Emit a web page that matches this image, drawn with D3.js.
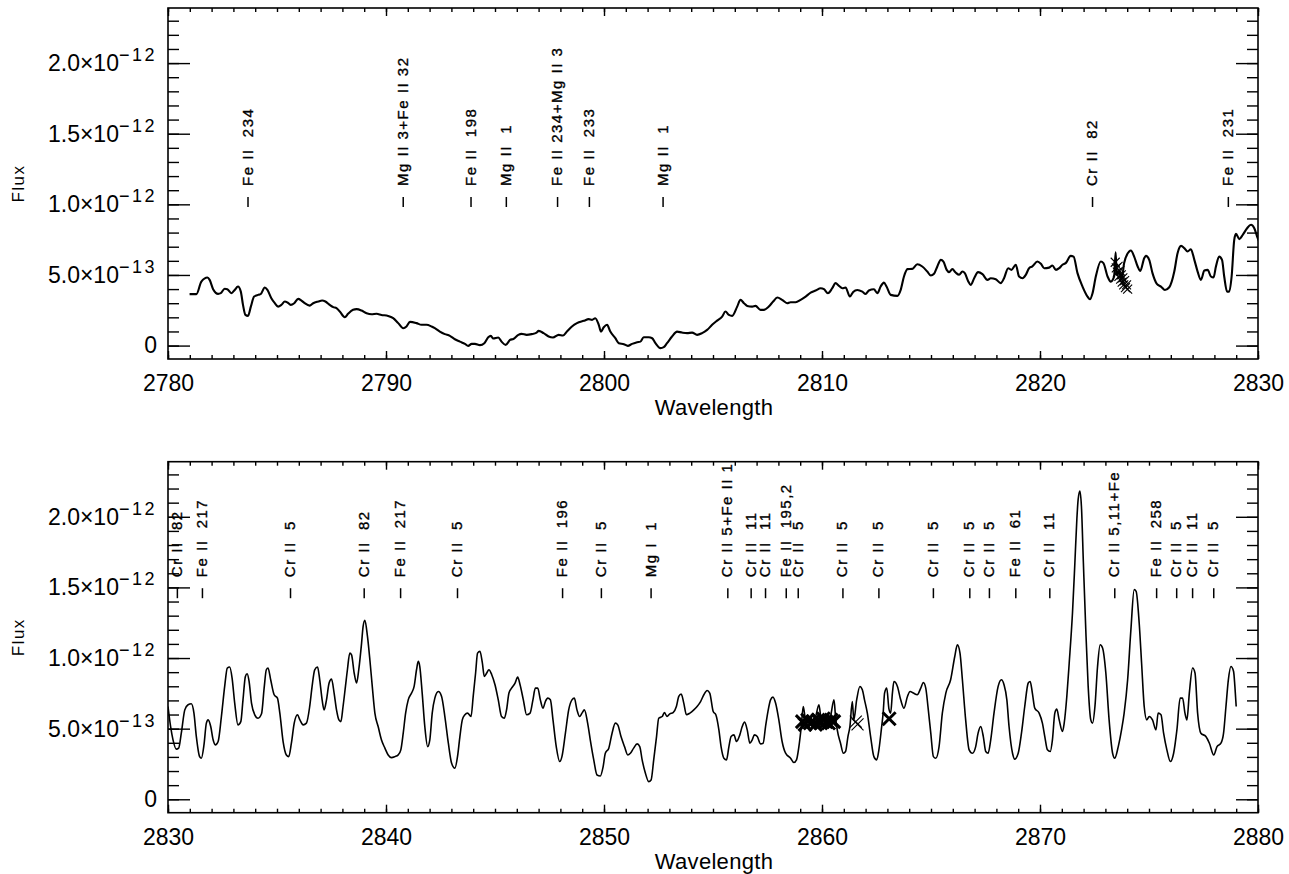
<!DOCTYPE html>
<html><head><meta charset="utf-8">
<script src="https://cdn.jsdelivr.net/npm/d3@7"></script>
<style>
body{margin:0;background:#fff;}
svg text{font-family:"Liberation Sans",Arial,sans-serif;fill:#000;}
</style></head><body>
<svg id="chart" width="1289" height="874"></svg>
<script>
// ---------- DATA (flux values in units of 1e-13) ----------
const FLUX_UNIT = 1e-13;

const topWavelength = [2780.99,2781.30,2781.53,2781.81,2781.91,2782.07,2782.30,2782.42,2782.60,2782.72,2782.91,2783.06,2783.21,2783.34,2783.44,2783.55,2783.67,2783.80,2783.95,2784.13,2784.25,2784.44,2784.56,2784.74,2784.90,2785.05,2785.20,2785.36,2785.48,2785.63,2785.79,2785.97,2786.12,2786.27,2786.50,2786.66,2786.89,2787.07,2787.22,2787.42,2787.58,2787.73,2787.88,2788.11,2788.26,2788.49,2788.65,2788.88,2789.11,2789.34,2789.57,2789.79,2790.10,2790.33,2790.56,2790.79,2790.94,2791.10,2791.40,2791.63,2791.86,2792.09,2792.24,2792.47,2792.70,2792.93,2793.16,2793.39,2793.62,2793.77,2793.93,2794.08,2794.31,2794.51,2794.69,2794.81,2794.92,2795.15,2795.30,2795.49,2795.69,2795.84,2796.07,2796.22,2796.45,2796.68,2796.91,2797.00,2797.23,2797.46,2797.66,2797.92,2798.12,2798.30,2798.53,2798.76,2799.07,2799.30,2799.45,2799.60,2799.76,2799.86,2799.99,2800.14,2800.29,2800.52,2800.68,2800.91,2801.09,2801.29,2801.52,2801.67,2801.82,2802.05,2802.21,2802.36,2802.59,2802.74,2802.89,2803.12,2803.35,2803.58,2803.81,2804.04,2804.27,2804.50,2804.73,2804.96,2805.19,2805.42,2805.57,2805.73,2805.88,2806.11,2806.26,2806.42,2806.57,2806.80,2806.95,2807.18,2807.33,2807.56,2807.76,2807.95,2808.17,2808.40,2808.56,2808.79,2809.02,2809.25,2809.48,2809.71,2809.94,2810.09,2810.27,2810.47,2810.62,2810.78,2810.93,2811.08,2811.28,2811.43,2811.62,2811.85,2812.00,2812.15,2812.38,2812.54,2812.69,2812.84,2812.96,2813.15,2813.46,2813.61,2813.76,2813.92,2814.14,2814.37,2814.60,2814.83,2814.99,2815.14,2815.29,2815.45,2815.57,2815.72,2815.83,2815.98,2816.13,2816.29,2816.44,2816.55,2816.70,2816.82,2816.98,2817.16,2817.36,2817.59,2817.74,2817.97,2818.20,2818.35,2818.54,2818.69,2818.89,2819.04,2819.20,2819.35,2819.50,2819.65,2819.88,2820.04,2820.19,2820.42,2820.57,2820.73,2820.88,2821.03,2821.18,2821.41,2821.54,2821.72,2821.95,2822.18,2822.29,2822.41,2822.56,2822.79,2822.91,2823.10,2823.25,2823.40,2823.47,2823.52,2823.65,2823.75,2823.86,2824.09,2824.17,2824.32,2824.48,2824.60,2824.78,2824.86,2825.01,2825.16,2825.36,2825.55,2825.73,2825.93,2826.16,2826.31,2826.47,2826.62,2826.77,2826.92,2827.08,2827.23,2827.38,2827.54,2827.69,2827.84,2827.96,2828.07,2828.22,2828.35,2828.45,2828.58,2828.68,2828.79,2828.91,2828.99,2829.14,2829.30,2829.50,2829.68,2829.83,2829.96,2830.10];
const topFlux = [3.64,3.64,4.53,4.82,4.65,3.99,3.66,3.71,4.02,3.99,3.71,3.94,4.18,3.82,2.88,2.17,2.10,2.76,3.47,3.59,3.64,4.11,3.94,3.35,3.00,2.76,2.88,3.12,3.05,2.88,3.00,3.31,3.19,3.00,2.83,3.00,3.12,3.19,3.12,2.88,2.72,2.65,2.41,2.01,2.25,2.53,2.58,2.48,2.29,2.22,2.25,2.17,2.10,1.94,1.59,1.23,1.35,1.68,1.59,1.47,1.47,1.35,1.23,0.99,0.81,0.69,0.45,0.28,0.12,-0.02,0.12,0.12,0.03,0.17,0.59,0.69,0.50,0.57,0.28,0.05,0.40,0.47,0.76,0.83,0.76,0.81,0.92,1.04,0.88,0.64,0.57,0.76,0.71,0.99,1.35,1.59,1.75,1.87,1.82,1.94,1.47,0.99,1.30,1.47,0.99,0.52,0.17,0.10,-0.02,0.12,0.24,0.28,0.59,0.59,0.52,0.17,-0.18,-0.11,0.17,0.64,0.99,0.92,0.88,0.92,0.76,0.88,1.11,1.47,1.77,2.05,2.41,2.17,2.10,2.76,3.24,3.00,2.81,2.76,2.81,2.53,2.53,2.76,3.12,3.40,3.24,3.00,3.07,3.07,3.24,3.47,3.75,3.90,4.06,3.99,3.71,4.06,4.42,4.23,4.06,4.11,3.47,3.80,3.94,3.82,3.66,3.90,3.99,3.71,4.18,4.46,4.18,3.59,3.52,3.94,4.89,5.41,5.43,5.76,5.60,5.24,4.96,5.08,5.60,6.07,5.95,5.36,5.20,5.41,5.17,5.01,5.24,5.13,4.58,4.30,4.77,5.20,5.06,4.65,4.77,4.70,4.42,4.77,5.48,5.36,5.72,4.89,4.77,5.01,5.48,5.60,5.95,5.79,5.48,5.52,5.67,5.36,5.48,5.72,5.84,6.35,6.30,5.13,4.18,3.47,3.28,3.71,4.89,5.95,5.84,4.89,4.53,4.90,6.60,5.00,5.20,4.70,5.84,6.66,6.73,6.30,5.60,5.29,6.19,6.35,6.07,5.13,4.37,4.18,3.94,4.13,5.24,6.54,7.06,6.90,6.66,6.82,6.07,5.24,4.65,5.31,5.36,4.89,4.82,5.60,6.30,6.07,4.89,3.82,3.82,4.89,7.49,7.91,7.54,7.84,8.31,8.55,8.31,7.72,7.20];

const bottomWavelength = [2830.00,2830.12,2830.23,2830.38,2830.49,2830.61,2830.77,2830.92,2831.07,2831.19,2831.30,2831.45,2831.53,2831.65,2831.76,2831.84,2831.96,2832.07,2832.17,2832.30,2832.45,2832.60,2832.72,2832.83,2832.94,2833.06,2833.21,2833.34,2833.44,2833.55,2833.63,2833.72,2833.83,2833.98,2834.13,2834.29,2834.41,2834.51,2834.59,2834.71,2834.87,2835.02,2835.13,2835.28,2835.43,2835.54,2835.66,2835.79,2835.94,2836.05,2836.20,2836.35,2836.50,2836.61,2836.73,2836.86,2836.96,2837.07,2837.16,2837.27,2837.39,2837.50,2837.62,2837.73,2837.84,2837.93,2838.03,2838.14,2838.23,2838.34,2838.42,2838.54,2838.65,2838.75,2838.88,2838.95,2839.03,2839.15,2839.26,2839.37,2839.49,2839.64,2839.79,2839.95,2840.10,2840.25,2840.41,2840.56,2840.68,2840.79,2840.90,2841.02,2841.17,2841.29,2841.40,2841.48,2841.55,2841.66,2841.78,2841.91,2842.01,2842.12,2842.24,2842.40,2842.55,2842.70,2842.86,2843.01,2843.16,2843.28,2843.39,2843.50,2843.62,2843.74,2843.90,2844.00,2844.11,2844.20,2844.31,2844.42,2844.51,2844.62,2844.72,2844.85,2845.00,2845.15,2845.30,2845.43,2845.53,2845.64,2845.76,2845.92,2846.04,2846.15,2846.30,2846.45,2846.61,2846.74,2846.85,2846.96,2847.08,2847.20,2847.31,2847.42,2847.54,2847.66,2847.81,2847.97,2848.07,2848.23,2848.38,2848.53,2848.64,2848.76,2848.88,2848.99,2849.10,2849.25,2849.37,2849.53,2849.68,2849.83,2849.96,2850.06,2850.22,2850.37,2850.52,2850.63,2850.78,2850.94,2851.09,2851.21,2851.36,2851.52,2851.64,2851.75,2851.90,2852.05,2852.16,2852.28,2852.41,2852.51,2852.67,2852.77,2852.89,2853.02,2853.17,2853.32,2853.43,2853.54,2853.66,2853.78,2853.94,2854.12,2854.27,2854.43,2854.58,2854.73,2854.85,2855.01,2855.13,2855.27,2855.37,2855.50,2855.62,2855.73,2855.83,2855.96,2856.08,2856.23,2856.34,2856.45,2856.57,2856.69,2856.80,2856.90,2857.03,2857.18,2857.30,2857.41,2857.52,2857.64,2857.75,2857.87,2858.02,2858.17,2858.33,2858.56,2858.71,2858.83,2858.94,2859.05,2859.14,2859.25,2859.40,2859.55,2859.71,2859.86,2859.97,2860.12,2860.27,2860.39,2860.55,2860.62,2860.70,2860.85,2860.98,2861.08,2861.19,2861.28,2861.39,2861.46,2861.59,2861.74,2861.85,2861.95,2862.08,2862.23,2862.38,2862.51,2862.61,2862.72,2862.81,2862.87,2862.97,2863.07,2863.15,2863.23,2863.30,2863.46,2863.61,2863.76,2863.92,2864.04,2864.19,2864.37,2864.53,2864.65,2864.76,2864.86,2864.99,2865.11,2865.22,2865.37,2865.52,2865.68,2865.90,2866.09,2866.21,2866.33,2866.44,2866.59,2866.75,2866.90,2867.05,2867.16,2867.28,2867.40,2867.51,2867.62,2867.74,2867.89,2868.08,2868.23,2868.35,2868.48,2868.58,2868.74,2868.84,2869.00,2869.15,2869.30,2869.46,2869.55,2869.65,2869.76,2869.96,2870.11,2870.22,2870.34,2870.47,2870.57,2870.68,2870.77,2870.88,2871.03,2871.11,2871.23,2871.34,2871.49,2871.60,2871.69,2871.75,2871.83,2871.90,2871.99,2872.10,2872.21,2872.33,2872.41,2872.52,2872.64,2872.76,2872.87,2873.02,2873.17,2873.33,2873.43,2873.59,2873.74,2873.86,2874.02,2874.17,2874.32,2874.41,2874.55,2874.66,2874.78,2874.90,2875.01,2875.16,2875.32,2875.42,2875.55,2875.67,2875.82,2875.98,2876.13,2876.28,2876.43,2876.54,2876.65,2876.74,2876.85,2877.00,2877.11,2877.23,2877.38,2877.61,2877.77,2877.97,2878.12,2878.30,2878.42,2878.53,2878.64,2878.76,2878.88,2878.94,2879.00];
const bottomFlux = [6.57,5.15,4.21,3.55,3.62,4.68,6.33,6.69,6.76,6.10,4.44,3.02,2.91,3.85,5.39,5.62,5.15,4.21,3.85,4.09,5.86,7.99,9.29,9.36,8.58,6.81,5.27,5.50,7.04,8.70,8.89,8.34,6.81,5.98,5.74,6.05,7.87,9.17,9.29,8.46,7.40,7.16,6.10,4.09,3.14,3.02,3.97,5.39,5.98,5.62,5.27,5.39,6.57,7.99,9.17,9.36,8.46,7.04,6.33,7.04,8.23,8.51,7.52,6.33,5.62,5.50,6.57,7.99,9.17,10.35,10.23,8.94,8.23,9.17,11.06,12.24,12.67,11.53,9.88,7.99,6.10,5.15,4.21,3.62,3.14,2.95,3.02,3.14,3.50,4.68,6.10,7.04,7.52,7.99,9.17,9.76,9.40,7.52,5.15,3.73,4.21,6.10,7.16,7.63,7.28,5.86,3.97,2.55,2.20,3.02,4.44,5.62,5.98,6.10,5.86,7.28,8.94,10.35,10.47,9.65,8.70,8.94,9.17,8.82,8.11,7.04,5.86,5.74,6.33,7.52,7.87,8.23,8.65,8.11,7.04,5.98,6.10,7.04,7.87,7.87,7.04,6.45,6.92,7.16,7.04,5.62,3.73,2.67,3.02,4.68,6.33,7.04,7.16,6.33,5.86,6.10,6.33,5.39,4.21,2.79,1.72,1.65,2.31,3.26,3.62,4.68,5.39,5.27,4.44,3.73,3.14,3.26,3.62,3.92,3.73,2.79,1.84,1.25,1.37,2.79,4.44,5.74,5.86,6.14,5.86,6.05,6.14,6.57,7.28,7.45,6.81,5.98,6.10,6.33,6.57,6.92,7.40,7.70,7.52,6.21,5.98,4.91,3.73,2.91,2.79,3.73,4.44,4.56,4.09,4.56,5.15,5.46,4.91,3.97,4.21,4.56,4.44,3.92,3.97,5.15,6.21,7.04,7.23,6.81,5.62,4.09,3.26,2.91,2.60,2.79,3.73,5.15,6.57,5.62,5.86,5.39,5.86,6.69,5.62,5.86,5.39,5.86,7.04,5.86,4.91,3.97,3.26,3.38,4.44,5.15,6.92,5.62,7.04,7.99,7.75,7.04,6.10,4.44,3.02,2.79,3.50,4.91,6.21,7.52,7.87,6.40,6.10,7.52,8.34,7.99,7.04,6.45,7.28,7.63,7.52,7.40,7.87,8.27,7.87,6.57,4.68,3.02,2.91,3.73,6.10,7.52,8.46,10.11,10.94,10.35,8.46,5.62,3.50,3.26,3.73,4.68,5.15,4.44,3.38,3.26,4.21,6.10,7.99,8.46,8.11,7.04,5.15,3.26,2.84,3.26,4.68,6.57,8.23,8.34,7.52,6.45,6.10,5.39,4.44,3.50,3.38,4.21,6.10,6.38,5.62,4.80,5.39,7.28,9.65,13.19,16.74,19.81,21.23,21.82,20.75,16.74,12.01,7.99,5.62,5.39,6.57,9.40,10.94,10.71,8.94,5.62,3.26,2.91,3.73,4.91,6.10,8.46,12.01,14.84,14.72,12.48,9.65,6.57,5.62,5.86,5.62,4.91,6.10,5.98,4.68,3.50,2.67,3.26,4.91,7.16,7.16,6.10,5.62,7.52,9.29,8.94,6.10,4.68,4.44,3.97,3.14,3.73,3.97,4.68,6.57,8.46,9.40,9.05,7.99,6.57];

// X-shaped point markers (psym 7)
const topMarkWavelength = [2823.45,2823.50,2823.55,2823.58,2823.62,2823.66,2823.70,2823.73,2823.77,2823.80,2823.84,2823.88,2823.92,2823.97,2824.02];
const topMarkFlux = [5.9,5.5,5.2,5.6,4.9,5.3,4.7,5.0,4.5,4.8,4.3,4.6,4.1,4.3,4.0];
const bottomMarkWavelength = [2859.10,2859.22,2859.34,2859.46,2859.58,2859.70,2859.82,2859.94,2860.06,2860.18,2860.30,2860.42,2860.54,2861.55,2861.63,2863.08];
const bottomMarkFlux = [5.5,5.3,5.6,5.4,5.5,5.3,5.6,5.4,5.7,5.5,5.4,5.6,5.5,5.5,5.3,5.7];
const bottomMarkBold = [1,1,1,1,1,1,1,1,1,1,1,1,1,0,0,1];

// Line identifications
const topLineWavelength = [2783.67,2790.79,2793.90,2795.52,2797.87,2799.33,2802.71,2822.41,2828.64];
const topLineLabel = ["Fe II  234","Mg II 3+Fe II 32","Fe II  198","Mg II  1","Fe II 234+Mg II 3","Fe II  233","Mg II  1","Cr II  82","Fe II  231"];
const bottomLineWavelength = [2830.43,2831.58,2835.62,2839.00,2840.67,2843.28,2848.10,2849.88,2852.16,2855.68,2856.75,2857.41,2858.36,2858.91,2860.96,2862.61,2865.11,2866.78,2867.68,2868.89,2870.45,2873.43,2875.35,2876.27,2877.00,2877.97];
const bottomLineLabel = ["Cr II  82","Fe II  217","Cr II  5","Cr II  82","Fe II  217","Cr II  5","Fe II  196","Cr II  5","Mg I  1","Cr II 5+Fe II 1","Cr II  11","Cr II  11","Fe II  195,2","Cr II  5","Cr II  5","Cr II  5","Cr II  5","Cr II  5","Cr II  5","Fe II  61","Cr II  11","Cr II 5,11+Fe","Fe II  258","Cr II  5","Cr II  11","Cr II  5"];

// Axes
const topXTicks = [2780,2790,2800,2810,2820,2830];
const bottomXTicks = [2830,2840,2850,2860,2870,2880];
const yTickValues = [0,5e-13,1e-12,1.5e-12,2e-12];
const yTickMantissa = ["0","5.0×10","1.0×10","1.5×10","2.0×10"];
const yTickExponent = ["","−13","−12","−12","−12"];
const xTitle = "Wavelength";
const yTitle = "Flux";

// ---------- DRAWING ----------
const svg = d3.select("#chart");
const L = 168, R = 1258;

function drawPanel(cfg){
  const g = svg.append("g");
  const x = d3.scaleLinear().domain(cfg.xDomain).range([L, R]);
  const y = d3.scaleLinear().domain([-0.95e-13, 2.39e-12]).range([cfg.bottom, cfg.top]);
  const id = "clip" + cfg.name;
  svg.append("clipPath").attr("id", id).append("rect")
    .attr("x", L).attr("y", cfg.top).attr("width", R - L).attr("height", cfg.bottom - cfg.top);

  const minorX = d3.range(cfg.xDomain[0], cfg.xDomain[1] + 0.001, 1);
  const minorY = d3.range(0, 24e-13, 1e-13).map(v => +v.toPrecision(6));
  const tickStyle = s => s.call(a => a.select(".domain").remove())
    .call(a => a.selectAll(".tick line").attr("stroke", "#000").attr("stroke-width", 1.4));

  g.append("g").attr("transform", `translate(0,${cfg.bottom})`)
    .call(d3.axisBottom(x).tickValues(minorX).tickSize(-4).tickFormat("")).call(tickStyle);
  g.append("g").attr("transform", `translate(0,${cfg.top})`)
    .call(d3.axisTop(x).tickValues(minorX).tickSize(-4).tickFormat("")).call(tickStyle);
  g.append("g").attr("transform", `translate(0,${cfg.top})`)
    .call(d3.axisTop(x).tickValues(cfg.xTicks).tickSize(-8).tickFormat("")).call(tickStyle);
  const xa = g.append("g").attr("transform", `translate(0,${cfg.bottom})`)
    .call(d3.axisBottom(x).tickValues(cfg.xTicks).tickSize(-8).tickPadding(16).tickFormat(d3.format("d")))
    .call(tickStyle);
  xa.selectAll(".tick text").attr("font-size", 23).attr("font-family", null).attr("fill", "#000");

  g.append("g").attr("transform", `translate(${L},0)`)
    .call(d3.axisLeft(y).tickValues(minorY).tickSize(-11).tickFormat("")).call(tickStyle);
  g.append("g").attr("transform", `translate(${R},0)`)
    .call(d3.axisRight(y).tickValues(minorY).tickSize(-11).tickFormat("")).call(tickStyle);
  g.append("g").attr("transform", `translate(${R},0)`)
    .call(d3.axisRight(y).tickValues(yTickValues).tickSize(-22).tickFormat("")).call(tickStyle);
  const ya = g.append("g").attr("transform", `translate(${L},0)`)
    .call(d3.axisLeft(y).tickValues(yTickValues).tickSize(-22).tickPadding(11).tickFormat(""))
    .call(tickStyle);
  ya.selectAll(".tick text").attr("font-family", null).attr("fill", "#000").attr("font-size", 23)
    .each(function(d, i){
      const t = d3.select(this);
      t.text(null);
      t.append("tspan").text(yTickMantissa[i]);
      if (yTickExponent[i]) t.append("tspan").attr("dy", -10).attr("font-size", 18)
        .attr("letter-spacing", 2.5).text(yTickExponent[i]);
    });

  g.append("rect").attr("x", L).attr("y", cfg.top).attr("width", R - L).attr("height", cfg.bottom - cfg.top)
    .attr("fill", "none").attr("stroke", "#000").attr("stroke-width", 1.6);

  g.append("text").attr("x", (L + R) / 2 + 1).attr("y", cfg.bottom + 56).attr("text-anchor", "middle")
    .attr("font-size", 22).attr("letter-spacing", 0.3).text(xTitle);
  g.append("text").attr("transform", `translate(24,${(cfg.top + cfg.bottom) / 2}) rotate(-90)`)
    .attr("text-anchor", "middle").attr("font-size", 17).attr("letter-spacing", 1.5).text(yTitle);

  const pts = cfg.wl.map((w, i) => [w, cfg.flux[i] * FLUX_UNIT]);
  g.append("path").datum(pts).attr("clip-path", `url(#${id})`)
    .attr("fill", "none").attr("stroke", "#000").attr("stroke-width", cfg.lineWidth)
    .attr("stroke-linejoin", "round")
    .attr("d", d3.line().x(d => x(d[0])).y(d => y(d[1])).curve(d3.curveMonotoneX));

  cfg.markWl.forEach((w, i) => {
    const s = cfg.markSize[i];
    g.append("path").attr("transform", `translate(${x(w)},${y(cfg.markFlux[i] * FLUX_UNIT)})`)
      .attr("d", `M${-s},${-s}L${s},${s}M${-s},${s}L${s},${-s}`)
      .attr("stroke", "#000").attr("stroke-width", cfg.markStroke[i]).attr("fill", "none");
  });

  const lab = g.append("g");
  cfg.lineWl.forEach((w, i) => {
    const xp = x(w);
    lab.append("line").attr("x1", xp).attr("x2", xp).attr("y1", cfg.top + cfg.tickY0).attr("y2", cfg.top + cfg.tickY1)
      .attr("stroke", "#000").attr("stroke-width", 1.5);
    lab.append("text").attr("transform", `translate(${xp + 4.5},${cfg.top + cfg.tickY0 - 11}) rotate(-90)`)
      .attr("font-size", 15).attr("letter-spacing", 1.5)
      .attr("stroke", "#000").attr("stroke-width", 0.35)
      .attr("xml:space", "preserve").style("white-space", "pre")
      .text(cfg.lineLabel[i]);
  });
}

drawPanel({
  name: "Top", xDomain: [2780, 2830], xTicks: topXTicks, top: 8, bottom: 359,
  wl: topWavelength, flux: topFlux, lineWidth: 2.1,
  markWl: topMarkWavelength, markFlux: topMarkFlux,
  markSize: topMarkWavelength.map(() => 4.5), markStroke: topMarkWavelength.map(() => 1.1),
  lineWl: topLineWavelength, lineLabel: topLineLabel, tickY0: 189, tickY1: 199
});
drawPanel({
  name: "Bottom", xDomain: [2830, 2880], xTicks: bottomXTicks, top: 461.7, bottom: 812.7,
  wl: bottomWavelength, flux: bottomFlux, lineWidth: 1.6,
  markWl: bottomMarkWavelength, markFlux: bottomMarkFlux,
  markSize: bottomMarkBold.map(b => b ? 6.5 : 6), markStroke: bottomMarkBold.map(b => b ? 3 : 1.1),
  lineWl: bottomLineWavelength, lineLabel: bottomLineLabel, tickY0: 126.5, tickY1: 136.5
});
</script>
</body></html>
